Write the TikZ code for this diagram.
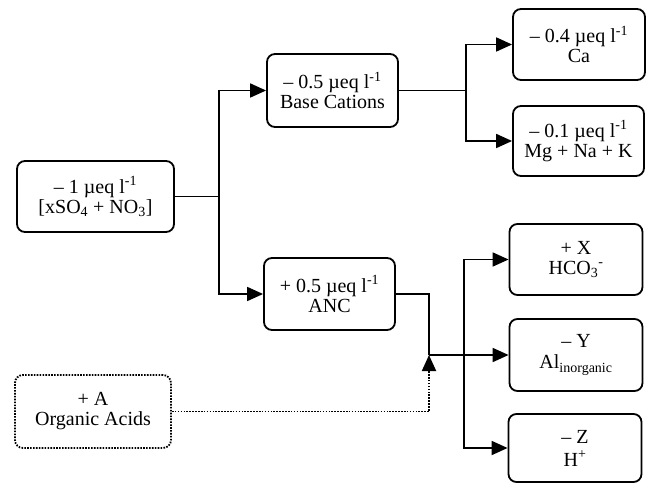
\documentclass[tikz,border=0pt]{standalone}
\usepackage{fontspec}
\setmainfont{Liberation Serif}
\usetikzlibrary{arrows.meta}
\begin{document}
\begin{tikzpicture}[x=1bp,y=-1bp,
  box/.style={draw, line width=1.8bp, rounded corners=8bp, align=center, inner sep=0pt,
    font=\fontsize{20bp}{20bp}\selectfont},
  dbox/.style={box, dash pattern=on 1.6bp off 1.3bp},
  conn/.style={line width=1.8bp},
  arr/.style={conn, -{Triangle[length=16bp,width=14bp]}},
  darr/.style={line width=1.8bp, dash pattern=on 1.6bp off 1.3bp, -{Triangle[length=16bp,width=14bp]}}]
\useasboundingbox (0,0) rectangle (647,484);
\node[box, minimum width=157bp, minimum height=71bp] (src) at (95.5,196.5)
  {– 1 µeq l\textsuperscript{-1}\\{}[xSO\textsubscript{4} + NO\textsubscript{3}]};
\node[box, minimum width=131bp, minimum height=73bp] (bc) at (332.5,90.5)
  {– 0.5 µeq l\textsuperscript{-1}\\Base Cations};
\node[box, minimum width=131bp, minimum height=72bp] (anc) at (329.5,294)
  {+ 0.5 µeq l\textsuperscript{-1}\\ANC};
\node[box, minimum width=132bp, minimum height=71bp] (ca) at (579,44.5)
  {– 0.4 µeq l\textsuperscript{-1}\\Ca};
\node[box, minimum width=131bp, minimum height=70bp] (mg) at (578.5,141)
  {– 0.1 µeq l\textsuperscript{-1}\\Mg + Na + K};
\node[box, minimum width=133bp, minimum height=71bp] (hco) at (576,259.5)
  {+ X\\HCO\textsubscript{3}\textsuperscript{-}};
\node[box, minimum width=133bp, minimum height=72bp] (al) at (576,355)
  {– Y\\[1bp]Al\textsubscript{inorganic}};
\node[box, minimum width=133bp, minimum height=68bp] (h) at (575,448)
  {– Z\\[3bp]H\textsuperscript{+}};
\node[dbox, minimum width=156bp, minimum height=73bp] (org) at (93,411.5)
  {+ A\\Organic Acids};
\coordinate (j1) at (219,196.5);
\coordinate (j2) at (466,90.5);
\coordinate (k) at (429,355);
\coordinate (v) at (464,355);
\draw[conn] (src.east) -- (j1);
\draw[arr] (j1) |- (bc.west);
\draw[arr] (j1) |- (anc.west);
\draw[conn] (bc.east) -- (j2);
\draw[arr] (j2) |- (ca.west);
\draw[arr] (j2) |- (mg.west);
\draw[conn] (anc.east) -| (k);
\draw[arr] (k) -- (al.west);
\draw[arr] (v) |- (hco.west);
\draw[arr] (v) |- (h.west);
\draw[darr] (org.east) -| (k);
\end{tikzpicture}
\end{document}
